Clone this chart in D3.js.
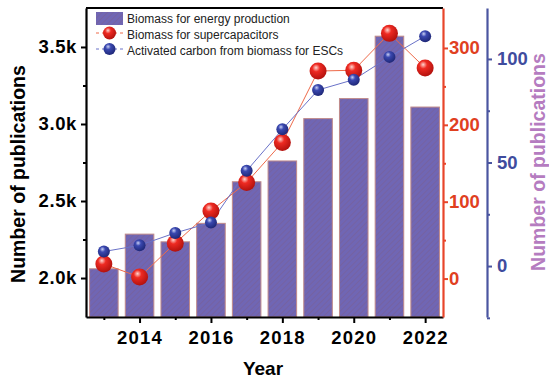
<!DOCTYPE html>
<html>
<head>
<meta charset="utf-8">
<script src="https://cdn.jsdelivr.net/npm/d3@7"></script>
<style>
  body { margin: 0; background: #fff; }
  svg { display: block; font-family: "Liberation Sans", Arial, sans-serif; }
</style>
</head>
<body>
<svg id="chart" width="549" height="378"></svg>
<script>
// data
var years = [2013, 2014, 2015, 2016, 2017, 2018, 2019, 2020, 2021, 2022];
var energyPubs = [2060, 2285, 2235, 2355, 2625, 2760, 3035, 3165, 3570, 3110];
var superPubs = [19, 2, 46, 88, 125, 177, 270, 271, 319, 274];
var escPubs = [7, 10, 16, 21, 46, 66, 85, 90, 101, 111];
var xTicks = [2014, 2016, 2018, 2020, 2022];
var leftTicks = [2000, 2500, 3000, 3500];
var redTicks = [0, 100, 200, 300];
var blueTicks = [0, 50, 100];
var legendLabels = ["Biomass for energy production", "Biomass for supercapacitors", "Activated carbon from biomass for ESCs"];

var svg = d3.select("#chart");
var plotL = 86, plotR = 443, plotT = 8, plotB = 317;

var x = d3.scaleLinear().domain([2012.5, 2022.5]).range([plotL, plotR]);
var yLeft = d3.scaleLinear().domain([1747, 3753]).range([plotB, plotT]);
var yRed = d3.scaleLinear().domain([-50, 352]).range([plotB, plotT]);
var yBlue = d3.scaleLinear().domain([-24.6, 124.6]).range([plotB, plotT]);

var defs = svg.append("defs");
var pat = defs.append("pattern")
  .attr("id", "hatch")
  .attr("patternUnits", "userSpaceOnUse")
  .attr("width", 4).attr("height", 4)
  .attr("patternTransform", "rotate(45)");
pat.append("rect").attr("width", 4).attr("height", 4).attr("fill", "#7066b4");
pat.append("line").attr("x1", 0).attr("y1", 0).attr("x2", 0).attr("y2", 4)
  .attr("stroke", "#77609a").attr("stroke-width", 1.4);

function sphere(id, light, mid, dark) {
  var g = defs.append("radialGradient").attr("id", id)
    .attr("cx", "40%").attr("cy", "35%").attr("r", "65%").attr("fx", "38%").attr("fy", "30%");
  g.append("stop").attr("offset", "0%").attr("stop-color", light);
  g.append("stop").attr("offset", "35%").attr("stop-color", mid);
  g.append("stop").attr("offset", "100%").attr("stop-color", dark);
}
sphere("redBall", "#ffd6d0", "#ee2a22", "#b3120e");
sphere("blueBall", "#c9d0f5", "#3a48b0", "#1f2878");

// bars
var bw = (x(1) - x(0)) * 0.8;
svg.selectAll(".bar").data(years).enter().append("rect")
  .attr("class", "bar")
  .attr("x", function (d) { return x(d) - bw / 2; })
  .attr("y", function (d, i) { return yLeft(energyPubs[i]); })
  .attr("width", bw)
  .attr("height", function (d, i) { return plotB - yLeft(energyPubs[i]); })
  .attr("fill", "url(#hatch)")
  .attr("stroke", "#c08a8a")
  .attr("stroke-width", 1);

// axes
function styleAxis(g, color, width) {
  g.select(".domain").attr("stroke", color).attr("stroke-width", width);
  g.selectAll(".tick line").attr("stroke", color).attr("stroke-width", 2);
  g.selectAll(".tick text").style("font-size", "18.5px").style("font-weight", "bold")
    .style("letter-spacing", "0.6px");
}
function minor(g, color) {
  g.select(".domain").remove();
  g.selectAll("line").attr("stroke", color).attr("stroke-width", 2);
}

svg.append("g").attr("transform", "translate(0," + plotB + ")")
  .call(d3.axisBottom(x).tickValues([2013, 2015, 2017, 2019, 2021]).tickSize(3).tickFormat(""))
  .call(minor, "#000");
var gx = svg.append("g").attr("transform", "translate(0," + plotB + ")")
  .call(d3.axisBottom(x).tickValues(xTicks).tickFormat(d3.format("d")).tickSize(6).tickPadding(8).tickSizeOuter(0));
styleAxis(gx, "#000", 2.2);
gx.selectAll(".tick text").attr("fill", "#000").style("letter-spacing", "1.2px");

svg.append("g").attr("transform", "translate(" + plotL + ",0)")
  .call(d3.axisLeft(yLeft).tickValues([2250, 2750, 3250]).tickSize(3).tickFormat(""))
  .call(minor, "#000");
var gl = svg.append("g").attr("transform", "translate(" + plotL + ",0)")
  .call(d3.axisLeft(yLeft).tickValues(leftTicks).tickFormat(function (d) { return (d / 1000).toFixed(1) + "k"; }).tickSize(5).tickPadding(4).tickSizeOuter(0));
styleAxis(gl, "#000", 2.2);
gl.selectAll(".tick text").attr("fill", "#000");

svg.append("line").attr("x1", plotL).attr("x2", plotR).attr("y1", plotT).attr("y2", plotT)
  .attr("stroke", "#000").attr("stroke-width", 2.2);

svg.append("g").attr("transform", "translate(" + plotR + ",0)")
  .call(d3.axisRight(yRed).tickValues([50, 150, 250]).tickSize(3).tickFormat(""))
  .call(minor, "#e8452a");
var gr = svg.append("g").attr("transform", "translate(" + plotR + ",0)")
  .call(d3.axisRight(yRed).tickValues(redTicks).tickSize(5).tickPadding(1).tickSizeOuter(0));
styleAxis(gr, "#e8452a", 2.2);
gr.selectAll(".tick text").attr("fill", "#e0401f").style("letter-spacing", "0px");

svg.append("g").attr("transform", "translate(487,0)")
  .call(d3.axisRight(yBlue).tickValues([-25, 25, 75]).tickSize(3).tickFormat(""))
  .call(minor, "#4a55a0");
var gb = svg.append("g").attr("transform", "translate(487,0)")
  .call(d3.axisRight(yBlue).tickValues(blueTicks).tickSize(5).tickPadding(5).tickSizeOuter(0));
styleAxis(gb, "#4a55a0", 2.2);
gb.selectAll(".tick text").attr("fill", "#3f4c9e").style("letter-spacing", "0px");

// lines
var redLine = d3.line().x(function (d) { return x(d); }).y(function (d, i) { return yRed(superPubs[i]); });
var blueLine = d3.line().x(function (d) { return x(d); }).y(function (d, i) { return yBlue(escPubs[i]); });
svg.append("path").attr("d", redLine(years)).attr("fill", "none").attr("stroke", "#ee6a4a").attr("stroke-width", 1);
svg.append("path").attr("d", blueLine(years)).attr("fill", "none").attr("stroke", "#6a72c8").attr("stroke-width", 1);

svg.selectAll(".rb").data(years).enter().append("circle")
  .attr("cx", function (d) { return x(d); })
  .attr("cy", function (d, i) { return yRed(superPubs[i]); })
  .attr("r", 8.5).attr("fill", "url(#redBall)");
svg.selectAll(".bb").data(years).enter().append("circle")
  .attr("cx", function (d) { return x(d); })
  .attr("cy", function (d, i) { return yBlue(escPubs[i]); })
  .attr("r", 6).attr("fill", "url(#blueBall)");

// legend
var lg = svg.append("g").attr("transform", "translate(96,12)");
lg.append("rect").attr("x", 0).attr("y", 0).attr("width", 27).attr("height", 13).attr("fill", "url(#hatch)");
lg.append("line").attr("x1", 0).attr("x2", 27).attr("y1", 21).attr("y2", 21)
  .attr("stroke", "#ee6a4a").attr("stroke-dasharray", "3,3");
lg.append("circle").attr("cx", 13.5).attr("cy", 21).attr("r", 6.5).attr("fill", "url(#redBall)");
lg.append("line").attr("x1", 0).attr("x2", 27).attr("y1", 37).attr("y2", 37)
  .attr("stroke", "#6a72c8").attr("stroke-dasharray", "3,3");
lg.append("circle").attr("cx", 13.5).attr("cy", 37).attr("r", 6).attr("fill", "url(#blueBall)");
lg.selectAll(".lt").data(legendLabels).enter().append("text")
  .attr("x", 31)
  .attr("y", function (d, i) { return 11 + i * 16; })
  .attr("fill", "#222")
  .style("font-size", "12px")
  .text(function (d) { return d; });

// titles
svg.append("text").attr("x", 263).attr("y", 375).attr("text-anchor", "middle")
  .style("font-size", "19px").style("font-weight", "bold").text("Year");
svg.append("text").attr("transform", "translate(25,174) rotate(-90)").attr("text-anchor", "middle")
  .style("font-size", "19.5px").style("font-weight", "bold").text("Number of publications");
svg.append("text").attr("transform", "translate(545,162) rotate(-90)").attr("text-anchor", "middle")
  .attr("fill", "#b57cc0")
  .style("font-size", "19.5px").style("font-weight", "bold").text("Number of publications");
</script>
</body>
</html>
